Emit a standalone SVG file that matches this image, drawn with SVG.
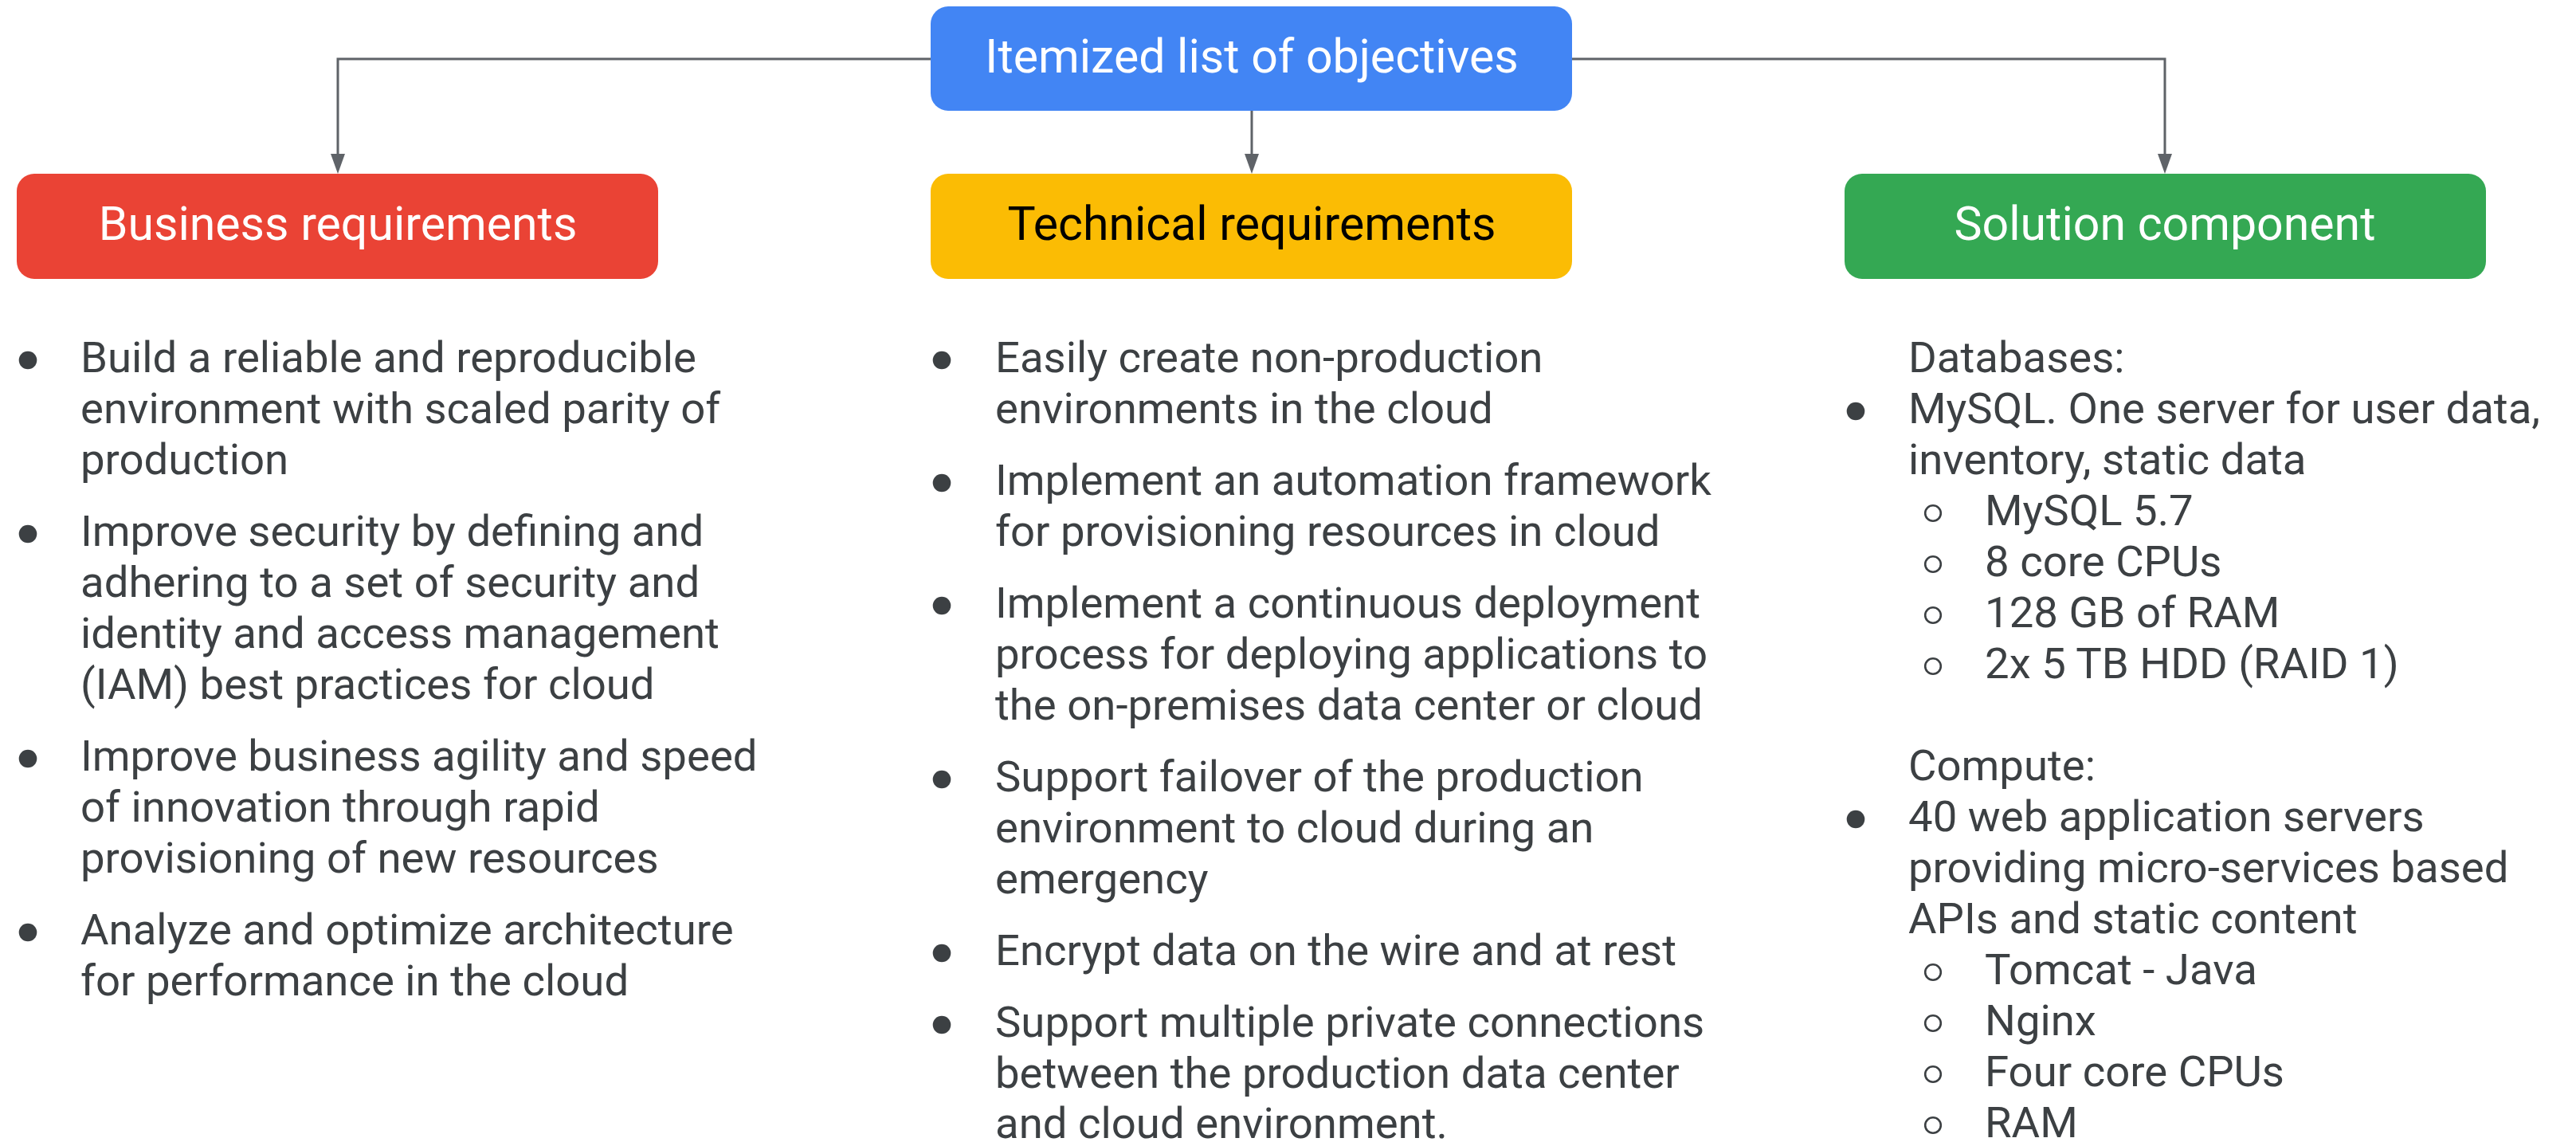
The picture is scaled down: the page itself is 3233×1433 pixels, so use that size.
<svg xmlns="http://www.w3.org/2000/svg" width="3233" height="1433" viewBox="0 0 3233 1433">
<defs>
<style>
.hdr{font-family:Roboto,"Liberation Sans",sans-serif;font-size:59px;text-anchor:middle}
.w{fill:#ffffff}
.k{fill:#000000}
.li{font-family:Roboto,"Liberation Sans",sans-serif;font-size:54.5px;fill:#3c4043}
.dot{fill:#3c4043}
.ring{fill:none;stroke:#3c4043;stroke-width:2.6}
.conn{fill:none;stroke:#5f6368;stroke-width:3}
.head{fill:#5f6368}
</style>
</defs>
<rect width="3233" height="1433" fill="#ffffff"/>

<g id="connectors">
<path class="conn" d="M1168,74 H424 V194"/>
<path class="conn" d="M1571,139 V194"/>
<path class="conn" d="M1973,74 H2717 V194"/>
<path class="head" d="M415,193 L433,193 L424,218 Z"/>
<path class="head" d="M1562,193 L1580,193 L1571,218 Z"/>
<path class="head" d="M2708,193 L2726,193 L2717,218 Z"/>
</g>

<g id="objectives">
<rect x="1168" y="8" width="805" height="131" rx="22" fill="#4285f4"/>
<text class="hdr w" x="1571" y="91">Itemized list of objectives</text>
</g>

<g id="business">
<rect x="21" y="218" width="805" height="132" rx="22" fill="#ea4335"/>
<text class="hdr w" x="424" y="301">Business requirements</text>
</g>

<g id="technical">
<rect x="1168" y="218" width="805" height="132" rx="22" fill="#fbbc04"/>
<text class="hdr k" x="1571" y="301">Technical requirements</text>
</g>

<g id="solution">
<rect x="2315" y="218" width="805" height="132" rx="22" fill="#34a853"/>
<text class="hdr w" x="2717" y="301">Solution component</text>
</g>

<g id="business-list">
<circle class="dot" cx="35" cy="452" r="11.3"/>
<text class="li" x="101" y="467">Build a reliable and reproducible</text>
<text class="li" x="101" y="531">environment with scaled parity of</text>
<text class="li" x="101" y="595">production</text>
<circle class="dot" cx="35" cy="670" r="11.3"/>
<text class="li" x="101" y="685">Improve security by defining and</text>
<text class="li" x="101" y="749">adhering to a set of security and</text>
<text class="li" x="101" y="813">identity and access management</text>
<text class="li" x="101" y="877">(IAM) best practices for cloud</text>
<circle class="dot" cx="35" cy="952" r="11.3"/>
<text class="li" x="101" y="967">Improve business agility and speed</text>
<text class="li" x="101" y="1031">of innovation through rapid</text>
<text class="li" x="101" y="1095">provisioning of new resources</text>
<circle class="dot" cx="35" cy="1170" r="11.3"/>
<text class="li" x="101" y="1185">Analyze and optimize architecture</text>
<text class="li" x="101" y="1249">for performance in the cloud</text>
</g>

<g id="technical-list">
<circle class="dot" cx="1182" cy="452" r="11.3"/>
<text class="li" x="1249" y="467">Easily create non-production</text>
<text class="li" x="1249" y="531">environments in the cloud</text>
<circle class="dot" cx="1182" cy="606" r="11.3"/>
<text class="li" x="1249" y="621">Implement an automation framework</text>
<text class="li" x="1249" y="685">for provisioning resources in cloud</text>
<circle class="dot" cx="1182" cy="760" r="11.3"/>
<text class="li" x="1249" y="775">Implement a continuous deployment</text>
<text class="li" x="1249" y="839">process for deploying applications to</text>
<text class="li" x="1249" y="903">the on-premises data center or cloud</text>
<circle class="dot" cx="1182" cy="978" r="11.3"/>
<text class="li" x="1249" y="993">Support failover of the production</text>
<text class="li" x="1249" y="1057">environment to cloud during an</text>
<text class="li" x="1249" y="1121">emergency</text>
<circle class="dot" cx="1182" cy="1196" r="11.3"/>
<text class="li" x="1249" y="1211">Encrypt data on the wire and at rest</text>
<circle class="dot" cx="1182" cy="1286" r="11.3"/>
<text class="li" x="1249" y="1301">Support multiple private connections</text>
<text class="li" x="1249" y="1365">between the production data center</text>
<text class="li" x="1249" y="1428">and cloud environment.</text>
</g>

<g id="solution-list">
<text class="li" x="2395" y="467">Databases:</text>
<circle class="dot" cx="2329" cy="516" r="11.3"/>
<text class="li" x="2395" y="531">MySQL. One server for user data,</text>
<text class="li" x="2395" y="595">inventory, static data</text>
<circle class="ring" cx="2426" cy="644" r="9.8"/>
<text class="li" x="2491" y="659">MySQL 5.7</text>
<circle class="ring" cx="2426" cy="708" r="9.8"/>
<text class="li" x="2491" y="723">8 core CPUs</text>
<circle class="ring" cx="2426" cy="772" r="9.8"/>
<text class="li" x="2491" y="787">128 GB of RAM</text>
<circle class="ring" cx="2426" cy="836" r="9.8"/>
<text class="li" x="2491" y="851">2x 5 TB HDD (RAID 1)</text>
<text class="li" x="2395" y="979">Compute:</text>
<circle class="dot" cx="2329" cy="1028" r="11.3"/>
<text class="li" x="2395" y="1043">40 web application servers</text>
<text class="li" x="2395" y="1107">providing micro-services based</text>
<text class="li" x="2395" y="1171">APIs and static content</text>
<circle class="ring" cx="2426" cy="1220" r="9.8"/>
<text class="li" x="2491" y="1235">Tomcat - Java</text>
<circle class="ring" cx="2426" cy="1284" r="9.8"/>
<text class="li" x="2491" y="1299">Nginx</text>
<circle class="ring" cx="2426" cy="1348" r="9.8"/>
<text class="li" x="2491" y="1363">Four core CPUs</text>
<circle class="ring" cx="2426" cy="1412" r="9.8"/>
<text class="li" x="2491" y="1427">RAM</text>
</g>
</svg>
